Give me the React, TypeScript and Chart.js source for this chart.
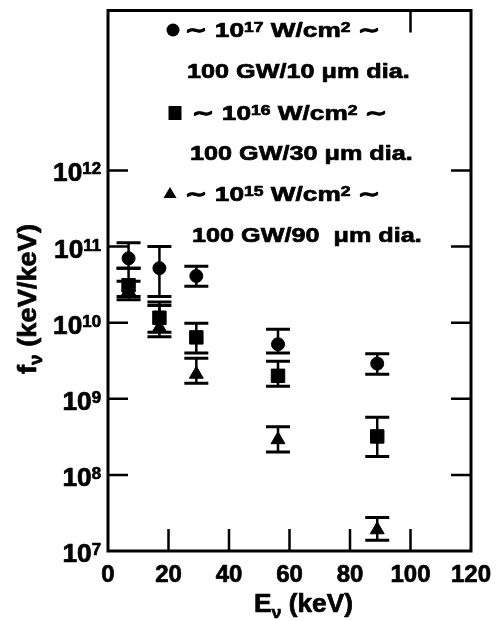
import React, { useEffect, useRef } from 'react';
import { Chart, registerables } from 'chart.js';

Chart.register(...registerables);

// ---- data ----
const energies = [6.8, 17.0, 29.2, 56.2, 89.0];

const circleValues = [7.0e10, 5.2e10, 4.1e10, 5.2e9, 2.9e9];
const circleLow = [5.2e10, 2.2e10, 3.0e10, 4.0e9, 2.1e9];
const circleHigh = [1.12e11, 1.0e11, 5.5e10, 8.2e9, 3.9e9];

const squareValues = [3.1e10, 1.16e10, 6.4e9, 2.0e9, 3.2e8];
const squareLow = [2.2e10, 7.5e9, 4.0e9, 1.46e9, 1.74e8];
const squareHigh = [5.2e10, 1.87e10, 9.8e9, 3.1e9, 5.7e8];

const triangleValues = [2.6e10, 8.6e9, 2.1e9, 2.9e8, 1.9e7];
const triangleLow = [2.0e10, 6.5e9, 1.6e9, 2.0e8, 1.38e7];
const triangleHigh = [3.5e10, 1.68e10, 3.4e9, 4.3e8, 2.75e7];

// ---- axes ----
const yTickValues = [1e7, 1e8, 1e9, 1e10, 1e11, 1e12];
const yTickExponents = ['7', '8', '9', '10', '11', '12'];
const yTickMarks = [1e8, 1e9, 1e10, 1e11, 1e12];
const xTickValues = [0, 20, 40, 60, 80, 100, 120];
const xTickLabels = ['0', '20', '40', '60', '80', '100', '120'];
const xBottomTickMarks = [20, 40, 60, 80, 100];
const xTopTickMarks = [100];

// ---- legend ----
const legendMarkers = ['circle', 'rect', 'triangle'];
const legendIntensityExp = ['17', '16', '15'];
const legendDiameters = ['100 GW/10 \u03bcm dia.', '100 GW/30 \u03bcm dia.', '100 GW/90  \u03bcm dia.'];

const FONT = '"Liberation Sans", Arial, Helvetica, sans-serif';

type Seg = { t: string; s: number; dy?: number };

function segWidth(ctx: CanvasRenderingContext2D, g: Seg, sx: number) {
  ctx.font = `bold ${g.s}px ${FONT}`;
  return ctx.measureText(g.t).width * sx;
}
function richWidth(ctx: CanvasRenderingContext2D, segs: Seg[], sx: number) {
  return segs.reduce((a, g) => a + segWidth(ctx, g, sx), 0);
}
function drawRich(ctx: CanvasRenderingContext2D, segs: Seg[], x: number, y: number, sx: number) {
  let cx = x;
  for (const g of segs) {
    const w = segWidth(ctx, g, sx);
    ctx.save();
    ctx.translate(cx, y + (g.dy || 0));
    ctx.scale(sx, 1);
    ctx.lineWidth = 0.7;
    ctx.lineJoin = 'round';
    ctx.fillText(g.t, 0, 0);
    ctx.strokeText(g.t, 0, 0);
    ctx.restore();
    cx += w;
  }
}

function drawMarker(ctx: CanvasRenderingContext2D, style: string, x: number, y: number) {
  ctx.beginPath();
  if (style === 'circle') ctx.arc(x, y, 6.5, 0, Math.PI * 2);
  else if (style === 'rect') ctx.rect(x - 6.5, y - 7, 13, 14);
  else {
    ctx.moveTo(x, y - 6);
    ctx.lineTo(x + 6.5, y + 5);
    ctx.lineTo(x - 6.5, y + 5);
    ctx.closePath();
  }
  ctx.fill();
}

const errorBarPlugin = {
  id: 'errorBars',
  beforeDatasetsDraw(chart: any) {
    const { ctx, scales } = chart;
    const xs = scales.x;
    const ys = scales.y;
    ctx.save();
    ctx.strokeStyle = '#000';
    chart.data.datasets.forEach((ds: any) => {
      ds.data.forEach((p: any, j: number) => {
        const px = xs.getPixelForValue(p.x);
        const yl = ys.getPixelForValue(ds.errLow[j]);
        const yh = ys.getPixelForValue(ds.errHigh[j]);
        ctx.lineWidth = 2.5;
        ctx.beginPath();
        ctx.moveTo(px, yl);
        ctx.lineTo(px, yh);
        ctx.stroke();
        ctx.lineWidth = 3;
        ctx.beginPath();
        ctx.moveTo(px - 12, yl);
        ctx.lineTo(px + 12, yl);
        ctx.moveTo(px - 12, yh);
        ctx.lineTo(px + 12, yh);
        ctx.stroke();
      });
    });
    ctx.restore();
  },
};

const decorPlugin = {
  id: 'decor',
  afterDraw(chart: any) {
    const { ctx, chartArea, scales } = chart;
    const xs = scales.x;
    const ys = scales.y;
    const { left, right, top, bottom } = chartArea;
    ctx.save();
    ctx.strokeStyle = '#000';
    ctx.fillStyle = '#000';
    // frame
    ctx.lineWidth = 3;
    ctx.strokeRect(left, top, right - left, bottom - top);
    // inner ticks
    ctx.lineWidth = 2.5;
    ctx.beginPath();
    yTickMarks.forEach((v) => {
      const py = ys.getPixelForValue(v);
      ctx.moveTo(left, py);
      ctx.lineTo(left + 20, py);
      ctx.moveTo(right, py);
      ctx.lineTo(right - 20, py);
    });
    xBottomTickMarks.forEach((v) => {
      const px = xs.getPixelForValue(v);
      ctx.moveTo(px, bottom);
      ctx.lineTo(px, bottom - 22);
    });
    xTopTickMarks.forEach((v) => {
      const px = xs.getPixelForValue(v);
      ctx.moveTo(px, top);
      ctx.lineTo(px, top + 22);
    });
    ctx.stroke();

    ctx.textBaseline = 'alphabetic';
    ctx.textAlign = 'left';
    // y tick labels
    yTickValues.forEach((v, i) => {
      const py = ys.getPixelForValue(v);
      const segs: Seg[] = [
        { t: '10', s: 25 },
        { t: yTickExponents[i], s: 16, dy: -7 },
      ];
      const w = richWidth(ctx, segs, 1.05);
      drawRich(ctx, segs, 101 - w, py + 11, 1.05);
    });
    // x tick labels
    xTickValues.forEach((v, i) => {
      const px = xs.getPixelForValue(v);
      const segs: Seg[] = [{ t: xTickLabels[i], s: 24 }];
      const w = richWidth(ctx, segs, 1.0);
      drawRich(ctx, segs, px - w / 2, 582, 1.0);
    });
    // x title
    drawRich(
      ctx,
      [
        { t: 'E', s: 25 },
        { t: '\u03bd', s: 17, dy: 6 },
        { t: ' (keV)', s: 25 },
      ],
      254,
      612,
      1.05
    );
    // y title (rotated)
    ctx.save();
    ctx.translate(36, 374);
    ctx.rotate(-Math.PI / 2);
    drawRich(
      ctx,
      [
        { t: 'f', s: 26 },
        { t: '\u03bd', s: 18, dy: 6 },
        { t: ' (keV/keV)', s: 26 },
      ],
      0,
      0,
      1.05
    );
    ctx.restore();

    // legend
    const markerX = [173, 175, 170];
    const markerY = [30, 113, 193];
    const line1X = [185, 192, 185];
    const line1Y = [37, 120, 201];
    const line2X = [187, 190, 192];
    const line2Y = [78, 160, 242];
    legendMarkers.forEach((m, i) => {
      drawMarker(ctx, m, markerX[i], markerY[i]);
      drawRich(
        ctx,
        [
          { t: '\u223c ', s: 21 },
          { t: '10', s: 21 },
          { t: legendIntensityExp[i], s: 14, dy: -5 },
          { t: ' W/cm', s: 21 },
          { t: '2', s: 14, dy: -5 },
          { t: ' \u223c', s: 21 },
        ],
        line1X[i],
        line1Y[i],
        1.25
      );
      drawRich(ctx, [{ t: legendDiameters[i], s: 21 }], line2X[i], line2Y[i], 1.2);
    });
    ctx.restore();
  },
};

export default function App() {
  const canvasRef = useRef<HTMLCanvasElement | null>(null);

  useEffect(() => {
    const canvas = canvasRef.current;
    if (!canvas) return;
    const mk = (vals: number[]) => energies.map((e, i) => ({ x: e, y: vals[i] }));
    const chart = new Chart(canvas, {
      type: 'scatter',
      data: {
        datasets: [
          {
            label: '10^17 W/cm2',
            data: mk(circleValues),
            errLow: circleLow,
            errHigh: circleHigh,
            pointStyle: 'circle',
            pointRadius: 6.5,
            backgroundColor: '#000',
            borderColor: '#000',
            borderWidth: 1,
          } as any,
          {
            label: '10^16 W/cm2',
            data: mk(squareValues),
            errLow: squareLow,
            errHigh: squareHigh,
            pointStyle: 'rect',
            pointRadius: 9.5,
            backgroundColor: '#000',
            borderColor: '#000',
            borderWidth: 1,
          } as any,
          {
            label: '10^15 W/cm2',
            data: mk(triangleValues),
            errLow: triangleLow,
            errHigh: triangleHigh,
            pointStyle: 'triangle',
            pointRadius: 8,
            backgroundColor: '#000',
            borderColor: '#000',
            borderWidth: 1,
          } as any,
        ],
      },
      options: {
        animation: false,
        responsive: false,
        devicePixelRatio: 1,
        layout: { padding: { top: 6, right: 30, left: 0, bottom: 0 } },
        plugins: {
          legend: { display: false },
          tooltip: { enabled: false },
          title: { display: false },
        },
        scales: {
          x: {
            type: 'linear',
            min: 0,
            max: 120,
            grid: { display: false },
            border: { display: false },
            ticks: { display: false },
            afterBuildTicks: (s: any) => {
              s.ticks = xTickValues.map((v) => ({ value: v }));
            },
            afterFit: (s: any) => {
              s.height = 70;
            },
          },
          y: {
            type: 'logarithmic',
            min: 1e7,
            max: 1.26e14,
            grid: { display: false },
            border: { display: false },
            ticks: { display: false },
            afterBuildTicks: (s: any) => {
              s.ticks = yTickValues.map((v) => ({ value: v }));
            },
            afterFit: (s: any) => {
              s.width = 108;
            },
          },
        },
      } as any,
      plugins: [errorBarPlugin, decorPlugin],
    });
    return () => chart.destroy();
  }, []);

  return (
    <div style={{ position: 'absolute', left: 0, top: 0, width: 501, height: 621, background: '#fff' }}>
      <canvas ref={canvasRef} width={501} height={621} style={{ display: 'block' }} />
    </div>
  );
}
